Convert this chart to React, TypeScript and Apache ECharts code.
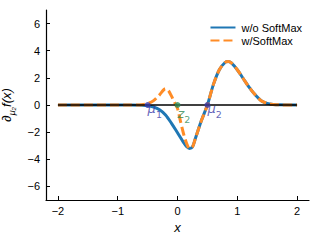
import React, { useEffect, useRef } from "react";
import * as echarts from "echarts";

const xTicks = [-2, -1, 0, 1, 2];
const yTicks = [-6, -4, -2, 0, 2, 4, 6];

const blueX = [-2.0, -0.8, -0.6, -0.5, -0.4, -0.3, -0.2, -0.1, 0.0, 0.1, 0.15, 0.2, 0.25, 0.3, 0.4, 0.5, 0.6, 0.7, 0.8, 0.85, 0.9, 1.0, 1.1, 1.2, 1.3, 1.4, 1.5, 1.6, 1.7, 2.0];
const blueY = [0, 0, -0.02, -0.05, -0.15, -0.35, -0.73, -1.35, -2.05, -2.75, -3.05, -3.2, -3.1, -2.45, -1.15, 0, 1.5, 2.6, 3.15, 3.2, 3.1, 2.6, 1.95, 1.3, 0.75, 0.32, 0.12, 0.04, 0.01, 0];

const orangeX = [-2.0, -0.8, -0.6, -0.5, -0.4, -0.3, -0.2, -0.15, -0.1, -0.05, 0.0, 0.05, 0.1, 0.15, 0.2, 0.25, 0.3, 0.4, 0.5, 0.6, 0.7, 0.8, 0.85, 0.9, 1.0, 1.1, 1.2, 1.3, 1.4, 1.5, 1.6, 1.7, 2.0];
const orangeY = [0, 0, 0.02, 0.1, 0.32, 0.75, 1.2, 1.05, 0.65, 0.2, -0.25, -1.2, -2.1, -2.8, -3.2, -3.1, -2.45, -1.15, 0, 1.5, 2.6, 3.15, 3.2, 3.1, 2.6, 1.95, 1.3, 0.75, 0.32, 0.12, 0.04, 0.01, 0];

const zeroX = [-2, 2];
const zeroY = [0, 0];

const muLabels = ["{m|μ}{s|1}", "{m|μ}{s|2}"];
const muX = [-0.5, 0.5];
const zLabel = "{m|z}{s|2}";
const zX = [0];

const FONT = "Liberation Sans, Arial, sans-serif";
const MATH = "DejaVu Sans, sans-serif";

const richFor = (color: string) => ({
  m: { fontSize: 13, fontStyle: "italic", color, fontFamily: MATH, lineHeight: 17, verticalAlign: "top" },
  s: { fontSize: 9.5, color, fontFamily: MATH, lineHeight: 17, verticalAlign: "bottom" },
});

export default function App() {
  const ref = useRef<HTMLDivElement>(null);
  useEffect(() => {
    if (!ref.current) return;
    const chart = echarts.init(ref.current, null, { renderer: "svg" });
    const fmt = (v: number) => String(v).replace("-", "\u2212");
    chart.setOption({
      animation: false,
      textStyle: { fontFamily: FONT },
      grid: { left: 46, right: 10, top: 10, bottom: 42, containLabel: false, outerBoundsMode: "none" },
      legend: {
        right: 12,
        top: 17,
        orient: "vertical",
        align: "left",
        itemWidth: 25,
        itemHeight: 10,
        itemGap: 2,
        itemStyle: { opacity: 0 },
        data: ["w/o SoftMax", "w/SoftMax"],
        textStyle: { fontSize: 11, color: "#000", fontFamily: FONT, padding: [0, 0, 0, 1] },
      },
      xAxis: {
        type: "value",
        min: -2.2,
        max: 2.2,
        name: "x",
        nameLocation: "middle",
        nameGap: 17,
        nameTextStyle: { fontSize: 13, fontStyle: "italic", color: "#000", fontFamily: FONT },
        axisLine: { onZero: false, lineStyle: { color: "#000", width: 1.2 } },
        axisTick: { inside: true, length: 4, lineStyle: { color: "#000" }, customValues: xTicks },
        axisLabel: { customValues: xTicks, formatter: fmt, color: "#000", fontSize: 11, margin: 5 },
        splitLine: { show: false },
      },
      yAxis: {
        type: "value",
        min: -7,
        max: 7,
        name: "{d|∂}{s|μ₂}{d|f(x)}",
        nameLocation: "middle",
        nameGap: 25,
        nameRotate: 90,
        nameTextStyle: {
          rich: {
            d: { fontSize: 13, fontStyle: "italic", color: "#000", fontFamily: FONT, lineHeight: 17, verticalAlign: "top" },
            s: { fontSize: 9, fontStyle: "italic", color: "#000", fontFamily: FONT, lineHeight: 17, verticalAlign: "bottom" },
          },
        },
        axisLine: { show: true, onZero: false, lineStyle: { color: "#000", width: 1.2 } },
        axisTick: { show: true, inside: true, length: 4, lineStyle: { color: "#000" }, customValues: yTicks },
        axisLabel: { customValues: yTicks, formatter: fmt, color: "#000", fontSize: 11, margin: 6 },
        splitLine: { show: false },
      },
      series: [
        {
          name: "w/o SoftMax",
          type: "line",
          data: blueX.map((x, i) => [x, blueY[i]]),
          smooth: 0.3,
          symbol: "none",
          lineStyle: { color: "#1f77b4", width: 3 },
          itemStyle: { color: "#1f77b4" },
          z: 2,
        },
        {
          name: "w/SoftMax",
          type: "line",
          data: orangeX.map((x, i) => [x, orangeY[i]]),
          smooth: 0.3,
          symbol: "none",
          lineStyle: { color: "#ff8c26", width: 3, type: [9, 4] },
          itemStyle: { color: "#ff8c26" },
          z: 3,
        },
        {
          name: "zero",
          type: "line",
          data: zeroX.map((x, i) => [x, zeroY[i]]),
          symbol: "none",
          lineStyle: { color: "#000", width: 1.3 },
          z: 4,
          silent: true,
        },
        {
          name: "mu",
          type: "scatter",
          data: muX.map((x, i) => ({ value: [x, 0], label: { formatter: muLabels[i] } })),
          symbolSize: 6,
          itemStyle: { color: "#3b3ba8" },
          label: {
            show: true,
            position: [3, 0],
            align: "left",
            verticalAlign: "top",
            rich: richFor("#3b3ba8"),
          },
          z: 5,
        },
        {
          name: "z",
          type: "scatter",
          data: zX.map((x) => ({ value: [x, 0], label: { formatter: zLabel } })),
          symbolSize: 6,
          itemStyle: { color: "#2e8b57" },
          label: {
            show: true,
            position: [3, 5],
            align: "left",
            verticalAlign: "top",
            rich: richFor("#2e8b57"),
          },
          z: 5,
        },
      ],
    });
    return () => chart.dispose();
  }, []);
  return <div ref={ref} style={{ width: 319, height: 242, position: "absolute", left: 0, top: 0 }} />;
}
